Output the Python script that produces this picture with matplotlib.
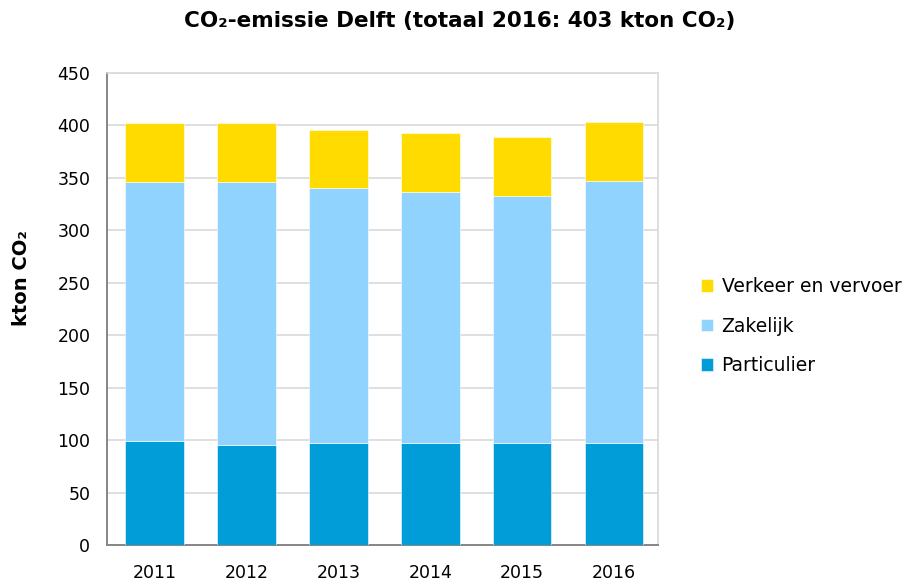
import numpy as np
import matplotlib
matplotlib.use('Agg')
import matplotlib.pyplot as plt

# Data (kton CO2)
jaren = ['2011', '2012', '2013', '2014', '2015', '2016']
particulier = [99.5, 95.5, 97.5, 97.5, 97.5, 97.5]
zakelijk = [246.5, 250.5, 242.5, 239.0, 235.5, 250.0]
verkeer = [56.0, 56.0, 56.0, 56.0, 56.0, 55.5]

kleur_part = '#019dd8'
kleur_zak = '#8fd3fe'
kleur_verk = '#ffdb00'

plt.rcParams['font.family'] = ['DejaVu Sans']

fig = plt.figure(figsize=(9.07, 5.82), dpi=100)
ax = fig.add_axes([107 / 907, 37 / 582, 551 / 907, 472 / 582])

x = np.arange(len(jaren)) + 0.02
b = 0.64
part = np.array(particulier)
zak = np.array(zakelijk)

ax.bar(x, part, width=b, color=kleur_part, edgecolor='white', linewidth=0.4,
       label='Particulier', zorder=3)
ax.bar(x, zak, width=b, bottom=part, color=kleur_zak, edgecolor='white',
       linewidth=0.4, label='Zakelijk', zorder=3)
ax.bar(x, verkeer, width=b, bottom=part + zak, color=kleur_verk,
       edgecolor='white', linewidth=0.4, label='Verkeer en vervoer', zorder=3)

ax.set_xlim(-0.5, len(jaren) - 0.5)
ax.set_ylim(0, 450)
ax.set_yticks(np.arange(0, 451, 50))
ax.set_xticks(x)
ax.set_xticklabels(jaren)
ax.tick_params(axis='both', length=0, labelsize=12.5)
ax.tick_params(axis='y', pad=12)
ax.tick_params(axis='x', pad=14)

ax.grid(axis='y', color='#d9d9d9', linewidth=1.2, zorder=0)
ax.set_axisbelow(True)
for s in ['left', 'bottom']:
    ax.spines[s].set_color('#868686')
    ax.spines[s].set_linewidth(1.4)
for s in ['top', 'right']:
    ax.spines[s].set_color('#d9d9d9')
    ax.spines[s].set_linewidth(1.2)

fig.text(460 / 907, 1 - 21 / 582, 'CO₂-emissie Delft (totaal 2016: 403 kton CO₂)',
         ha='center', va='center', fontsize=15.5, fontweight='bold')
fig.text(22 / 907, 1 - 278 / 582, 'kton CO₂', rotation=90, ha='center',
         va='center', fontsize=14, fontweight='bold')

h, l = ax.get_legend_handles_labels()
fig.legend(h[::-1], l[::-1], loc='center left',
           bbox_to_anchor=(684 / 907, 1 - 326 / 582), frameon=False,
           fontsize=13.5, handlelength=0.65, handleheight=0.65,
           handletextpad=0.45, labelspacing=1.1)

fig.savefig('out.png', dpi=100)
